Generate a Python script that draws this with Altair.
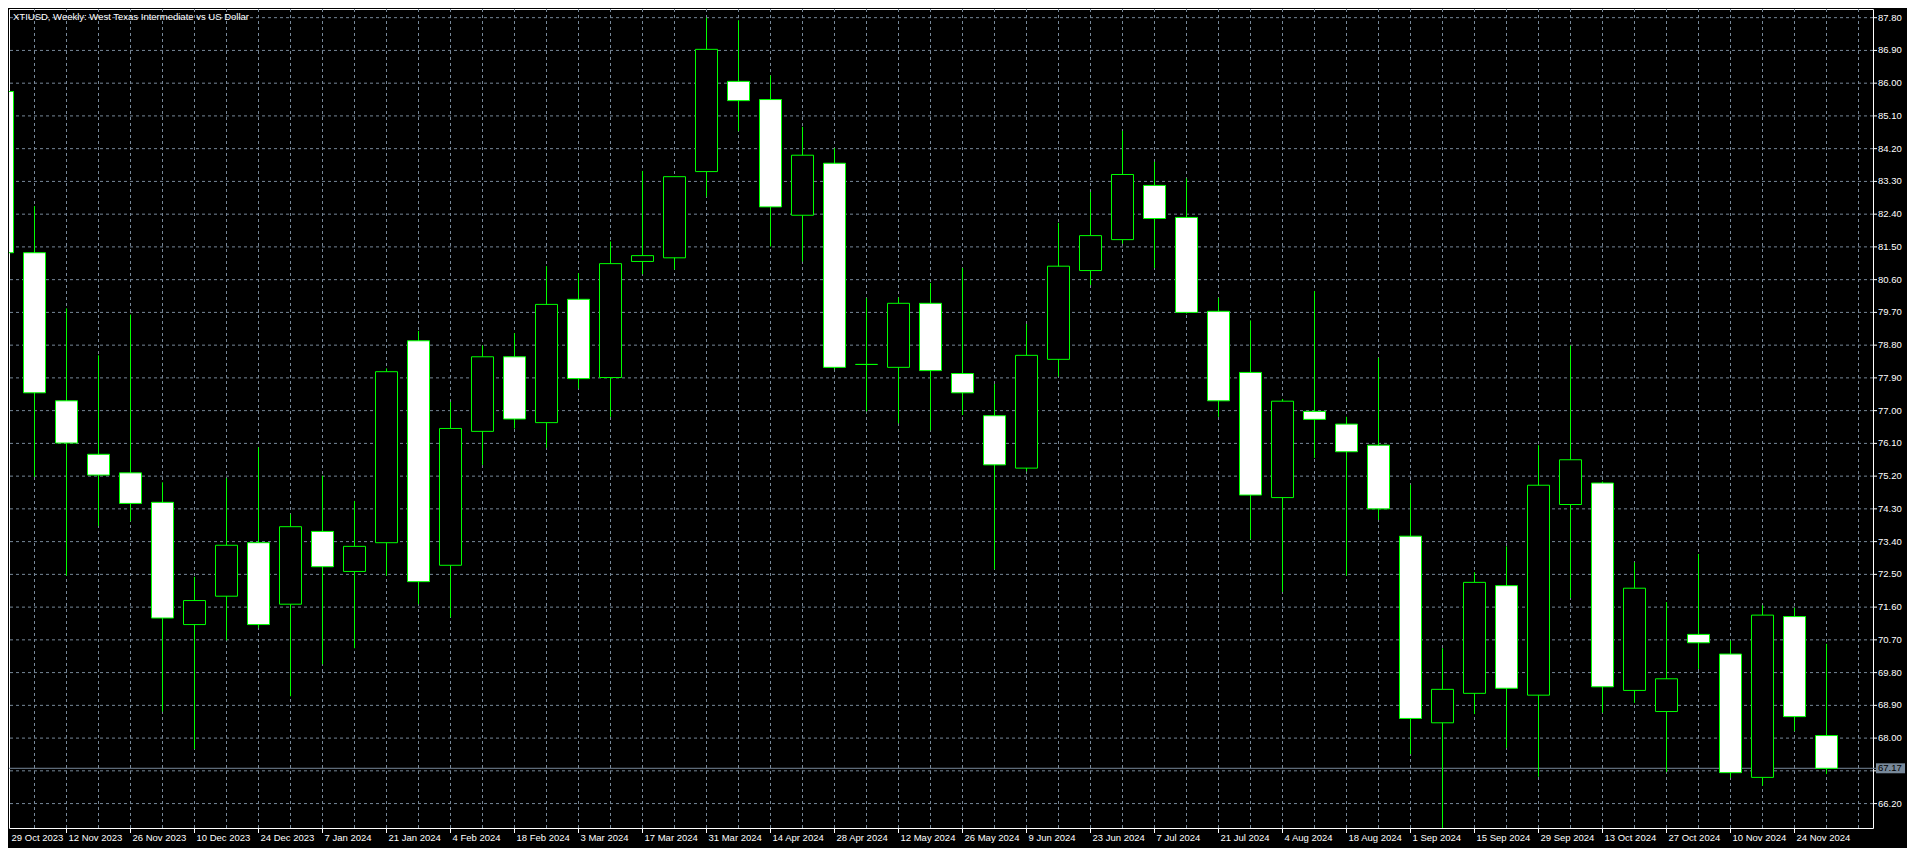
import altair as alt
import pandas as pd

title_text = "XTIUSD, Weekly:  West Texas Intermediate vs US Dollar"

opens = [85.77, 81.34, 77.27, 75.80, 75.29, 74.48, 71.12, 71.90, 73.37, 71.68,
         73.68, 72.58, 73.37, 78.92, 72.75, 76.43, 78.48, 76.67, 80.06, 77.91,
         81.10, 81.20, 83.57, 86.05, 85.55, 82.37, 83.80, 78.27, 78.19, 79.95,
         78.02, 76.86, 75.42, 78.41, 80.85, 81.70, 83.19, 82.31, 79.73, 78.05,
         74.61, 76.98, 76.63, 76.05, 73.55, 68.42, 69.23, 72.19, 69.18, 74.42,
         75.01, 69.31, 68.73, 70.85, 70.31, 66.92, 71.34, 68.07]
highs = [85.85, 82.62, 79.81, 78.52, 79.64, 75.03, 72.43, 75.14, 75.99, 74.15,
         75.21, 74.52, 78.16, 79.19, 77.24, 78.79, 79.13, 80.97, 80.78, 81.65,
         83.59, 83.44, 87.80, 87.73, 86.21, 84.80, 84.21, 80.09, 80.11, 80.51,
         80.92, 77.73, 79.38, 82.16, 83.01, 84.69, 83.84, 83.38, 80.10, 79.48,
         77.32, 80.29, 76.83, 78.45, 74.96, 70.47, 72.56, 73.27, 76.05, 78.79,
         75.05, 72.83, 71.74, 73.06, 70.68, 71.65, 71.58, 70.59]
lows = [81.20, 75.18, 72.46, 73.83, 73.96, 68.73, 67.70, 70.69, 71.03, 69.15,
        70.03, 70.47, 72.46, 71.68, 71.32, 75.51, 76.51, 75.98, 77.61, 76.83,
        80.75, 80.88, 82.88, 84.68, 81.51, 81.10, 78.13, 76.98, 76.65, 76.46,
        76.88, 72.64, 75.33, 77.94, 80.45, 81.59, 80.92, 79.67, 76.83, 73.47,
        72.02, 75.70, 72.46, 74.00, 67.56, 65.51, 68.66, 67.73, 66.94, 71.85,
        68.70, 68.97, 67.07, 69.90, 66.91, 66.69, 68.19, 67.01]
closes = [81.34, 77.49, 76.11, 75.23, 74.45, 71.30, 71.78, 73.30, 71.12, 73.81,
          72.71, 73.27, 78.07, 72.30, 76.51, 78.48, 76.77, 79.92, 77.88, 81.04,
          81.26, 83.43, 86.93, 85.52, 82.60, 84.02, 78.19, 78.27, 79.95, 78.10,
          77.49, 75.51, 78.52, 80.97, 81.81, 83.49, 82.28, 79.70, 77.27, 74.68,
          77.26, 76.76, 75.87, 74.30, 68.54, 69.34, 72.28, 69.37, 74.95, 75.65,
          69.41, 72.12, 69.63, 70.62, 67.05, 71.38, 68.59, 67.17]

label_weeks = [0, 2, 4, 6, 8, 10, 12, 14, 16, 18, 20, 22, 24, 26, 28,
               30, 32, 34, 36, 38, 40, 42, 44, 46, 48, 50, 52, 54, 56]
label_texts = ["29 Oct 2023", "12 Nov 2023", "26 Nov 2023", "10 Dec 2023",
               "24 Dec 2023", "7 Jan 2024", "21 Jan 2024", "4 Feb 2024",
               "18 Feb 2024", "3 Mar 2024", "17 Mar 2024", "31 Mar 2024",
               "14 Apr 2024", "28 Apr 2024", "12 May 2024", "26 May 2024",
               "9 Jun 2024", "23 Jun 2024", "7 Jul 2024", "21 Jul 2024",
               "4 Aug 2024", "18 Aug 2024", "1 Sep 2024", "15 Sep 2024",
               "29 Sep 2024", "13 Oct 2024", "27 Oct 2024", "10 Nov 2024",
               "24 Nov 2024"]
price_ticks = [66.2, 67.1, 68.0, 68.9, 69.8, 70.7, 71.6, 72.5, 73.4, 74.3,
               75.2, 76.1, 77.0, 77.9, 78.8, 79.7, 80.6, 81.5, 82.4, 83.3,
               84.2, 85.1, 86.0, 86.9, 87.8]
grid_weeks = list(range(1, 59))
current_price = 67.17

LIME = "#00ff00"
GRID = "#778899"
FONT = "Liberation Sans"
FS = 9.5

W, H = 1864, 819
X_DOMAIN = [0.203125, 58.453125]
Y_DOMAIN = [65.529, 88.0386]

df = pd.DataFrame({"i": list(range(len(opens))), "open": opens, "high": highs,
                   "low": lows, "close": closes})
lab = pd.DataFrame({"i": label_weeks, "label": label_texts})
cur = pd.DataFrame({"p": [current_price], "txt": [f"{current_price:.2f}"]})
ttl = pd.DataFrame({"t": [title_text]})
gx = pd.DataFrame({"i": grid_weeks})
gy = pd.DataFrame({"p": price_ticks})

xscale = alt.Scale(domain=X_DOMAIN, nice=False, zero=False)
yscale = alt.Scale(domain=Y_DOMAIN, nice=False, zero=False)

# dashed grid (vertical at every week, horizontal at every price step)
vgrid = alt.Chart(gx).mark_rule(color=GRID, strokeWidth=1, strokeDash=[3, 3]).encode(
    x=alt.X("i:Q", scale=xscale, axis=None)
)
hgrid = alt.Chart(gy).mark_rule(color=GRID, strokeWidth=1, strokeDash=[3, 3]).encode(
    y=alt.Y("p:Q", scale=yscale, axis=None)
)

# right price scale: ticks and labels
y_ticks = alt.Chart(gy).mark_rule(color="white", strokeWidth=1).encode(
    y=alt.Y("p:Q", scale=yscale, axis=None), x=alt.value(W), x2=alt.value(W + 4)
)
y_labels = alt.Chart(gy).transform_filter(
    "abs(datum.p - 67.1) > 0.01"
).transform_calculate(
    s="format(datum.p, '.2f')"
).mark_text(align="left", baseline="middle", color="white", font=FONT, fontSize=FS).encode(
    y=alt.Y("p:Q", scale=yscale, axis=None), x=alt.value(W + 5), text="s:N"
)

wicks = alt.Chart(df).mark_rule(color=LIME, strokeWidth=1, clip=True).encode(
    x=alt.X("i:Q", scale=xscale, axis=None),
    y=alt.Y("low:Q", scale=yscale, axis=None),
    y2="high:Q",
)

bodies = alt.Chart(df).transform_calculate(
    xa="datum.i - 0.34375", xb="datum.i + 0.34375"
).mark_rect(stroke=LIME, strokeWidth=1, clip=True).encode(
    x=alt.X("xa:Q", scale=xscale, axis=None),
    x2="xb:Q",
    y=alt.Y("open:Q", scale=yscale, axis=None),
    y2="close:Q",
    fill=alt.condition("datum.close > datum.open", alt.value("black"), alt.value("white")),
)

price_line = alt.Chart(cur).mark_rule(color=GRID, strokeWidth=1).encode(
    y=alt.Y("p:Q", scale=yscale, axis=None),
    x=alt.value(0), x2=alt.value(W + 3),
)

price_box = alt.Chart(cur).transform_calculate(
    top="datum.p + 0.137", bot="datum.p - 0.137"
).mark_rect(fill=GRID).encode(
    y=alt.Y("top:Q", scale=yscale, axis=None), y2="bot:Q",
    x=alt.value(W + 3), x2=alt.value(W + 32),
)

price_txt = alt.Chart(cur).mark_text(
    align="left", baseline="middle", color="black", font=FONT, fontSize=FS
).encode(
    y=alt.Y("p:Q", scale=yscale, axis=None), x=alt.value(W + 5), text="txt:N"
)

x_ticks = alt.Chart(lab).mark_rule(color="white", strokeWidth=1).encode(
    x=alt.X("i:Q", scale=xscale, axis=None), y=alt.value(H), y2=alt.value(H + 5)
)

x_labels = alt.Chart(lab).transform_calculate(
    lx="max(datum.i, 0.22)"
).mark_text(
    align="left", baseline="middle", dx=2, color="white", font=FONT, fontSize=FS
).encode(
    x=alt.X("lx:Q", scale=xscale, axis=None), y=alt.value(H + 10), text="label:N"
)

title_mark = alt.Chart(ttl).mark_text(
    align="left", baseline="top", color="white", font=FONT, fontSize=FS
).encode(x=alt.value(4), y=alt.value(3), text="t:N")

chart = alt.layer(
    vgrid, hgrid, price_line, wicks, bodies, y_ticks, y_labels,
    price_box, price_txt, x_ticks, x_labels, title_mark
).properties(
    width=W, height=H,
    autosize=alt.AutoSizeParams(type="none"),
    padding={"left": 1, "top": 1, "right": 34, "bottom": 20},
    background="black",
).configure_view(stroke="white", strokeWidth=1, fill="black")

chart.save("out.html", embed_options={"renderer": "svg", "actions": False})
